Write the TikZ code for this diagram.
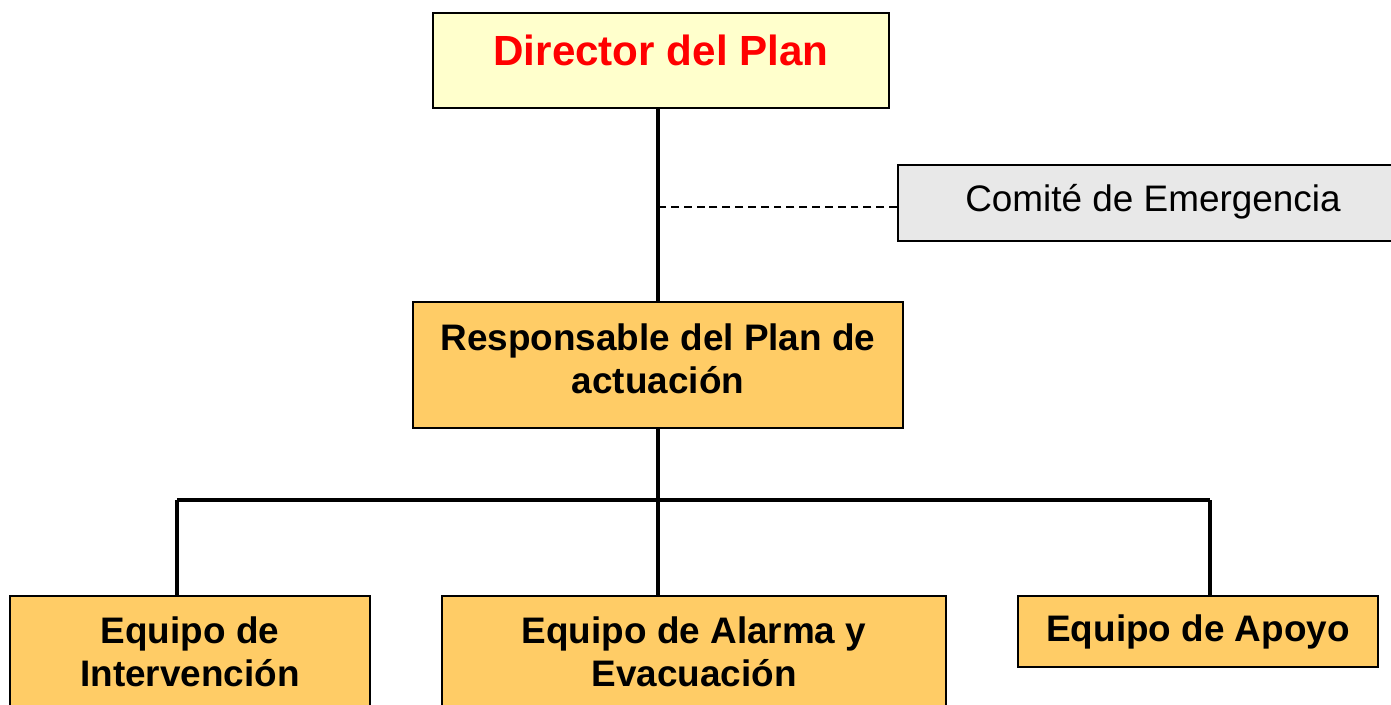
\documentclass[tikz,border=0pt]{standalone}
\usepackage{fontspec}
\setmainfont{Liberation Sans}
\usetikzlibrary{shapes,arrows,positioning,calc}
\definecolor{paleyellow}{HTML}{FFFFCC}
\definecolor{boxorange}{HTML}{FFCC66}
\definecolor{boxgray}{HTML}{E8E8E8}

\begin{document}
\begin{tikzpicture}[
  box/.style={draw, line width=1.2pt, rectangle, align=center, inner sep=0pt},
  team/.style={box, fill=boxorange, font=\fontsize{21}{24.5}\selectfont\bfseries},
  link/.style={line width=1.8pt}]
  \useasboundingbox (0,0) rectangle (27.82,-14.08);
  % top of the chart
  \node[box, fill=paleyellow, minimum width=9.12cm, minimum height=1.9cm, text depth=0.4cm,
    text=red, font=\fontsize{24}{28}\selectfont\bfseries] (dir) at (13.22,-1.21) {Director del Plan};
  \node[box, fill=boxgray, minimum width=10.2cm, minimum height=1.52cm, text depth=0.2cm,
    font=\fontsize{21}{24}\selectfont] (comite) at (23.06,-4.06) {Comité de Emergencia};
  \node[team, minimum width=9.8cm, minimum height=2.52cm, text depth=0.24cm] (resp) at (13.16,-7.3) {Responsable del Plan de\\actuación};
  % teams
  \node[team, minimum width=7.2cm, minimum height=2.24cm] (inter) at (3.8,-13.04) {Equipo de\\Intervención};
  \node[team, minimum width=10.08cm, minimum height=2.24cm] (alarma) at (13.88,-13.04) {Equipo de Alarma y\\Evacuación};
  \node[team, minimum width=7.2cm, minimum height=1.42cm] (apoyo) at (23.96,-12.63) {Equipo de Apoyo};
  % connectors
  \coordinate (b1) at (3.54,-10);
  \coordinate (b2) at (13.16,-10);
  \coordinate (b3) at (24.2,-10);
  \coordinate (cw) at ([yshift=-0.08cm]comite.west);
  \draw[link] (dir.south -| resp.north) -- (resp.north);
  \draw[line width=0.9pt, dash pattern=on 4.5pt off 2.8pt] (cw) -- (cw -| resp.north);
  \draw[link] (resp.south) -- (b2);
  \draw[link] (b1) -- (b3);
  \draw[link] (b1) -- (b1 |- inter.north);
  \draw[link] (b2) -- (b2 |- alarma.north);
  \draw[link] (b3) -- (b3 |- apoyo.north);
\end{tikzpicture}
\end{document}
